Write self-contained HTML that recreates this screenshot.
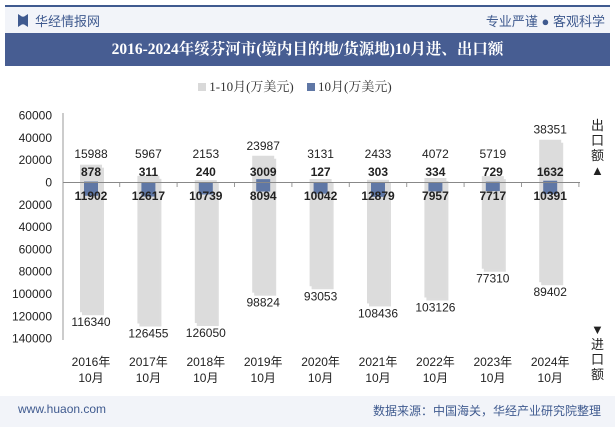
<!DOCTYPE html>
<html><head><meta charset="utf-8"><style>
body{margin:0;width:615px;height:427px;background:#fff;font-family:"Liberation Sans","Noto Sans CJK SC",sans-serif;overflow:hidden;position:relative}
.abs{position:absolute}
</style></head><body>
<div class="abs" style="left:5px;top:5px;width:605px;height:2px;background:#3f5a8f"></div>
<div class="abs" style="left:5px;top:7px;width:605px;height:26px;background:#f2f4f9"></div>
<div class="abs" style="left:18px;top:14px;width:10px;height:13px;background:#3f5a8f;clip-path:polygon(0 0,40% 20%,60% 20%,100% 0,100% 100%,60% 80%,40% 80%,0 100%)"></div>
<div class="abs" style="left:35px;top:11px;font-size:13px;color:#3f5a8f">华经情报网</div>
<div class="abs" style="right:10px;top:11px;font-size:13px;color:#3f5a8f">专业严谨 ● 客观科学</div>
<div class="abs" style="left:5px;top:33px;width:605px;height:33px;background:#475d92;color:#fff;font-family:'Liberation Serif','Noto Serif CJK SC',serif;font-weight:bold;font-size:15.5px;line-height:33px;text-align:center">2016-2024年绥芬河市(境内目的地/货源地)10月进、出口额</div>
<div class="abs" style="left:198px;top:76px;font-size:13px;color:#333;font-family:'Liberation Serif','Noto Serif CJK SC',serif">
<span style="display:inline-block;width:8px;height:8px;background:#d9d9d9"></span> 1-10月(万美元) &nbsp;&nbsp;&nbsp;<span style="display:inline-block;width:8px;height:8px;background:#5f77a5"></span> 10月(万美元)</div>
<div class="abs" style="left:591px;top:118px;width:14px;font-size:13px;line-height:15px;color:#222">出口额▲</div>
<div class="abs" style="left:591px;top:322px;width:14px;font-size:13px;line-height:15px;color:#222">▼进口额</div>
<svg class="abs" style="left:0;top:0" width="615" height="427" id="chart"></svg>
<div class="abs" style="left:0;top:396px;width:615px;height:31px;background:#f2f4f9"></div>
<div class="abs" style="left:18px;top:402px;font-size:12px;color:#3f5a8f">www.huaon.com</div>
<div class="abs" style="right:14px;top:402px;font-size:12px;color:#3f5a8f">数据来源：中国海关，华经产业研究院整理</div>
<script>
const categories=["2016年","2017年","2018年","2019年","2020年","2021年","2022年","2023年","2024年"];
const exportAnnual=[15988,5967,2153,23987,3131,2433,4072,5719,38351];
const importAnnual=[116340,126455,126050,98824,93053,108436,103126,77310,89402];
const exportOct=[878,311,240,3009,127,303,334,729,1632];
const importOct=[11902,12617,10739,8094,10042,12879,7957,7717,10391];
const yTicks=[60000,40000,20000,0,20000,40000,60000,80000,100000,120000,140000];
const yTickVals=[60000,40000,20000,0,-20000,-40000,-60000,-80000,-100000,-120000,-140000];
const svg=document.getElementById('chart');const NS='http://www.w3.org/2000/svg';
const y=v=>182.5-v*0.001115;const x=i=>91+i*57.4;
function mk(t,a,txt){const e=document.createElementNS(NS,t);for(const k in a)e.setAttribute(k,a[k]);if(txt!==undefined)e.textContent=txt;svg.appendChild(e);return e;}
yTickVals.forEach((v,i)=>{const t=mk('text',{x:52,y:y(v)+4,'text-anchor':'end','font-size':12,fill:'#222'},yTicks[i]);

});
const ax=mk('line',{x1:63,y1:113,x2:63,y2:340,stroke:'#999'});


categories.forEach((c,i)=>{const cx=x(i);
const sh=mk('rect',{x:cx-9,y:y(exportAnnual[i])+3,width:22,height:y(-importAnnual[i])-y(exportAnnual[i]),fill:'#bbb',opacity:0.5});


const a=mk('rect',{x:cx-11,y:y(exportAnnual[i]),width:22,height:y(0)-y(exportAnnual[i]),fill:'#dcdcdc'});


const b=mk('rect',{x:cx-11,y:y(0),width:22,height:y(-importAnnual[i])-y(0),fill:'#dcdcdc'});


const d=mk('rect',{x:cx-7,y:y(exportOct[i]),width:14,height:y(-importOct[i])-y(exportOct[i]),fill:'#5f77a5'});


const l1=mk('text',{x:cx,y:Math.min(y(exportAnnual[i])-6,158),'text-anchor':'middle','font-size':12,fill:'#222'},exportAnnual[i]);


const l2=mk('text',{x:cx,y:y(-importAnnual[i])+14,'text-anchor':'middle','font-size':12,fill:'#222'},importAnnual[i]);


const l3=mk('text',{x:cx,y:176,'text-anchor':'middle','font-size':12,'font-weight':'bold',fill:'#222'},exportOct[i]);


const l4=mk('text',{x:cx,y:200,'text-anchor':'middle','font-size':12,'font-weight':'bold',fill:'#222'},importOct[i]);


const cl=mk('text',{x:cx,y:366,'text-anchor':'middle','font-size':12,fill:'#222'},c);


const cl2=mk('text',{x:cx,y:382,'text-anchor':'middle','font-size':12,fill:'#222'},'10月');


const tk=mk('line',{x1:cx+28.7,y1:182,x2:cx+28.7,y2:187,stroke:'#999'});


});
const za=mk('line',{x1:63,y1:182.5,x2:580,y2:182.5,stroke:'#888'});


</script>
</body></html>
